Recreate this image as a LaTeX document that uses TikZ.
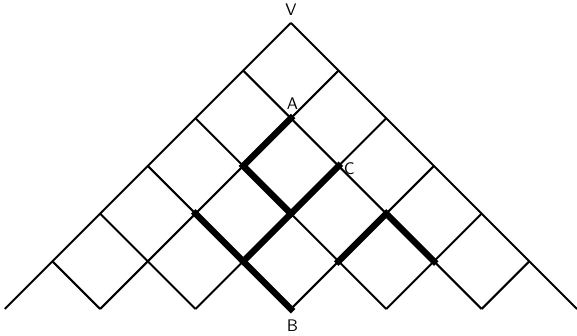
\documentclass[tikz,border=0pt]{standalone}
\usepackage{tikz}
\usetikzlibrary{positioning}

\begin{document}
\begin{tikzpicture}[
    x=1cm, y=1cm,
    grid/.style={line width=1.2pt},
    walk/.style={line width=3.8pt, line join=miter, line cap=rect},
    lab/.style={font=\sffamily, inner sep=1pt},
]
\useasboundingbox (-6.1,-6.56) rectangle (6.0,0.48);

% ---------- lattice points: i steps down-left, j steps down-right from V ----------
\foreach \i in {0,...,6}
  \foreach \j in {0,...,6}
    \coordinate (n-\i-\j) at (\j-\i, -\i-\j);

% ---------- thin lattice lines ----------
\foreach \i [evaluate=\i as \r using int(6-\i)] in {0,...,5}
  \draw[grid] (n-\i-0) -- (n-\i-\r);
\foreach \j [evaluate=\j as \r using int(6-\j)] in {0,...,5}
  \draw[grid] (n-0-\j) -- (n-\r-\j);

% ---------- thick paths ----------
\draw[walk] (n-1-1) -- (n-2-1) -- (n-2-2) -- (n-1-2);
\draw[walk] (n-2-2) -- (n-3-2);
\draw[walk] (n-3-1) -- (n-3-2) -- (n-3-3);
\draw[walk] (n-2-3) -- (n-1-3) -- (n-1-4);

% ---------- labels ----------
\node[lab, above=3pt of n-0-0] (vlab) {V};
\node[lab, above=4pt of n-1-1, xshift=1pt] (alab) {A};
\node[lab, right=2pt of n-1-2, yshift=-1.5pt] (clab) {C};
\node[lab, below=5.5pt of n-3-3, xshift=1pt] (blab) {B};

\end{tikzpicture}
\end{document}
